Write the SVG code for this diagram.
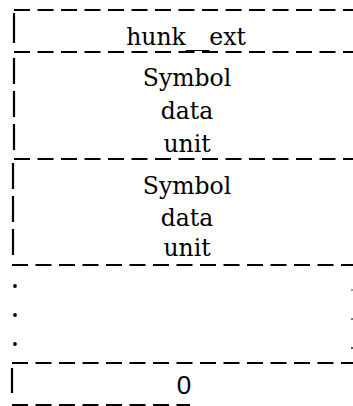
<svg xmlns="http://www.w3.org/2000/svg" width="353" height="406" viewBox="0 0 353 406">
<style>
.h{stroke:#000;stroke-width:2.2;stroke-dasharray:16 7.5;fill:none}
.v{stroke:#000;stroke-width:2.2;stroke-dasharray:26 7;fill:none}
.t{font-family:"DejaVu Serif","Liberation Serif",serif;font-size:23.5px;fill:#000;text-anchor:middle}
.z{font-family:"Liberation Sans",Arial,sans-serif;font-size:26px;fill:#000;text-anchor:middle}
</style>
<rect width="353" height="406" fill="#fff"/>
<g id="connectors">
<line class="h" x1="14" y1="10" x2="353" y2="10"/>
<line class="h" x1="14" y1="52" x2="353" y2="52"/>
<line class="h" x1="14" y1="159" x2="353" y2="159"/>
<line class="h" x1="12" y1="265" x2="353" y2="265"/>
<line class="h" x1="12" y1="363" x2="353" y2="363"/>
<line class="h" x1="12" y1="405" x2="190" y2="405"/>
</g>
<g id="header">
<line x1="14" y1="13" x2="14" y2="43" stroke="#000" stroke-width="2.2"/>
<text class="t" x="186" y="45">hunk__ext</text>
</g>
<g id="unit1">
<line class="v" x1="14" y1="58" x2="14" y2="152"/>
<text class="t" x="187" y="86">Symbol</text>
<text class="t" x="187" y="119">data</text>
<text class="t" x="187" y="152">unit</text>
</g>
<g id="unit2">
<line class="v" x1="13" y1="163" x2="13" y2="258"/>
<text class="t" x="187" y="194">Symbol</text>
<text class="t" x="187" y="226">data</text>
<text class="t" x="187" y="256">unit</text>
</g>
<g id="ellipsis">
<circle cx="15" cy="286" r="1.9" fill="#000"/>
<circle cx="15" cy="315" r="1.9" fill="#000"/>
<circle cx="15" cy="344" r="1.9" fill="#000"/>
<rect x="351" y="289" width="2" height="2" fill="#999"/>
<rect x="351" y="318" width="2" height="2" fill="#777"/>
<rect x="351" y="347" width="2" height="2" fill="#555"/>
</g>
<g id="terminator">
<line x1="12" y1="368" x2="12" y2="393" stroke="#000" stroke-width="2.2"/>
<text class="z" x="184" y="394">0</text>
</g>
</svg>
